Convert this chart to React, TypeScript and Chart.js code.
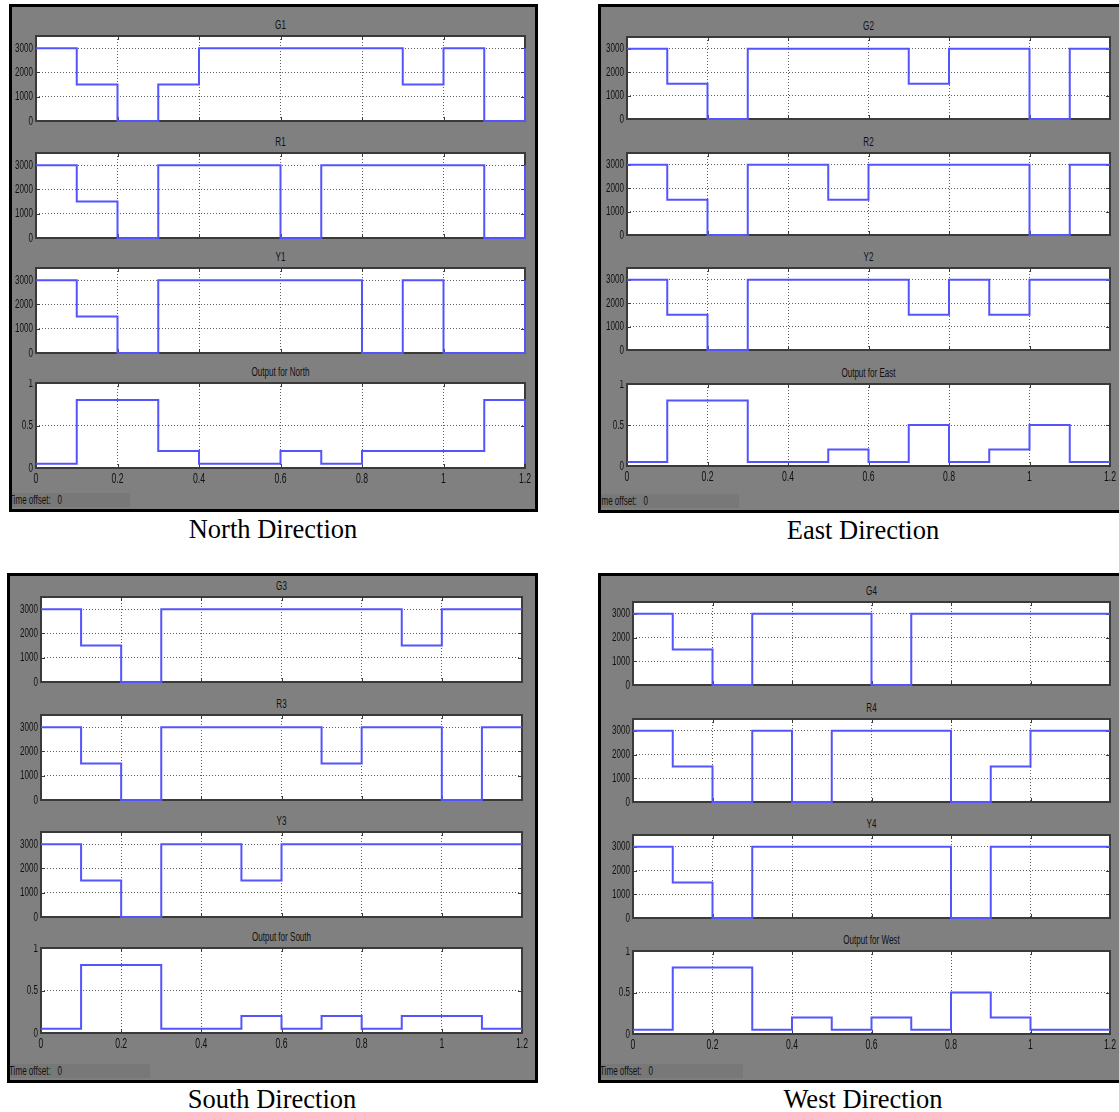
import React, { useEffect, useRef } from "react";
import { Chart, registerables } from "chart.js";

Chart.register(...registerables);

// ---- data ----
const timeSteps = [0, 0.1, 0.2, 0.3, 0.4, 0.5, 0.6, 0.7, 0.8, 0.9, 1.0, 1.1, 1.2];
const xTicks = [0, 0.2, 0.4, 0.6, 0.8, 1.0, 1.2];
const signalTicks = [0, 1000, 2000, 3000];
const outputTicks = [0, 0.5, 1];

const G1 = [3000, 1500, 0, 1500, 3000, 3000, 3000, 3000, 3000, 1500, 3000, 0, 3000];
const R1 = [3000, 1500, 0, 3000, 3000, 3000, 0, 3000, 3000, 3000, 3000, 0, 3000];
const Y1 = [3000, 1500, 0, 3000, 3000, 3000, 3000, 3000, 0, 3000, 0, 0, 3000];
const outNorth = [0.05, 0.8, 0.8, 0.2, 0.05, 0.05, 0.2, 0.05, 0.2, 0.2, 0.2, 0.8, 0.05];

const G2 = [3000, 1500, 0, 3000, 3000, 3000, 3000, 1500, 3000, 3000, 0, 3000, 3000];
const R2 = [3000, 1500, 0, 3000, 3000, 1500, 3000, 3000, 3000, 3000, 0, 3000, 3000];
const Y2 = [3000, 1500, 0, 3000, 3000, 3000, 3000, 1500, 3000, 1500, 3000, 3000, 3000];
const outEast = [0.05, 0.8, 0.8, 0.05, 0.05, 0.2, 0.05, 0.5, 0.05, 0.2, 0.5, 0.05, 0.05];

const G3 = [3000, 1500, 0, 3000, 3000, 3000, 3000, 3000, 3000, 1500, 3000, 3000, 3000];
const R3 = [3000, 1500, 0, 3000, 3000, 3000, 3000, 1500, 3000, 3000, 0, 3000, 3000];
const Y3 = [3000, 1500, 0, 3000, 3000, 1500, 3000, 3000, 3000, 3000, 3000, 3000, 3000];
const outSouth = [0.05, 0.8, 0.8, 0.05, 0.05, 0.2, 0.05, 0.2, 0.05, 0.2, 0.2, 0.05, 0.05];

const G4 = [3000, 1500, 0, 3000, 3000, 3000, 0, 3000, 3000, 3000, 3000, 3000, 3000];
const R4 = [3000, 1500, 0, 3000, 0, 3000, 3000, 3000, 0, 1500, 3000, 3000, 3000];
const Y4 = [3000, 1500, 0, 3000, 3000, 3000, 3000, 3000, 0, 3000, 3000, 3000, 3000];
const outWest = [0.05, 0.8, 0.8, 0.05, 0.2, 0.05, 0.2, 0.05, 0.5, 0.2, 0.05, 0.05, 0.05];

// ---- style ----
const SANS = "'Liberation Sans', Arial, sans-serif";
const SQUEEZE = 0.62;
const TEXT = "#101010";
const LINE = "rgb(84,84,255)";
const GRID = "rgba(40,40,40,0.75)";
const FRAME = "#3a3a3a";
const PANEL_BG = "#808080";

type Box = { l: number; t: number; w: number; h: number };

function fmt(v: number) {
  return String(Number(v.toFixed(2)));
}

function squeezedText(ctx: CanvasRenderingContext2D, s: string, x: number, y: number, align: CanvasTextAlign) {
  ctx.save();
  ctx.translate(x, y);
  ctx.scale(SQUEEZE, 1);
  ctx.textAlign = align;
  ctx.fillText(s, 0, 0);
  ctx.restore();
}

const plotFrame = {
  id: "plotFrame",
  beforeDraw(chart: any) {
    const { ctx, chartArea: a } = chart;
    ctx.save();
    ctx.fillStyle = "#ffffff";
    ctx.fillRect(a.left, a.top, a.right - a.left, a.bottom - a.top);
    ctx.restore();
  },
  beforeDatasetsDraw(chart: any) {
    const { ctx, chartArea: a, scales } = chart;
    ctx.save();
    ctx.strokeStyle = FRAME;
    ctx.lineWidth = 1;
    const tl = 4;
    ctx.beginPath();
    scales.x.ticks.forEach((t: any) => {
      const px = Math.round(scales.x.getPixelForValue(t.value)) + 0.5;
      ctx.moveTo(px, a.top);
      ctx.lineTo(px, a.top + tl);
      ctx.moveTo(px, a.bottom);
      ctx.lineTo(px, a.bottom - tl);
    });
    scales.y.ticks.forEach((t: any) => {
      const py = Math.round(scales.y.getPixelForValue(t.value)) + 0.5;
      ctx.moveTo(a.left, py);
      ctx.lineTo(a.left + tl, py);
      ctx.moveTo(a.right, py);
      ctx.lineTo(a.right - tl, py);
    });
    ctx.stroke();
    ctx.lineWidth = 2;
    ctx.strokeRect(a.left, a.top, a.right - a.left, a.bottom - a.top);
    ctx.restore();
  },
};

function makeTickText(showX: boolean) {
  return {
    id: "tickText",
    afterDraw(chart: any) {
      const { ctx, chartArea: a, scales } = chart;
      ctx.save();
      ctx.fillStyle = TEXT;
      ctx.font = `13px ${SANS}`;
      ctx.textBaseline = "middle";
      scales.y.ticks.forEach((t: any) => {
        const py = scales.y.getPixelForValue(t.value);
        squeezedText(ctx, fmt(t.value), a.left - 3, py, "right");
      });
      if (showX) {
        ctx.font = `14px ${SANS}`;
        scales.x.ticks.forEach((t: any) => {
          const px = scales.x.getPixelForValue(t.value);
          squeezedText(ctx, fmt(t.value), px, a.bottom + 11, "center");
        });
      }
      ctx.restore();
    },
  };
}

function Subplot(props: { title: string; values: number[]; isOutput: boolean; showX: boolean; box: Box }) {
  const { title, values, isOutput, showX, box } = props;
  const ref = useRef<HTMLCanvasElement>(null);
  const YW = 34;
  const PT = 4;
  const PR = 10;
  const XH = showX ? 20 : 0;
  const PB = showX ? 0 : 4;
  const cw = YW + box.w + PR;
  const ch = PT + box.h + XH + PB;

  useEffect(() => {
    const yTicks = isOutput ? outputTicks : signalTicks;
    const chart = new Chart(ref.current as HTMLCanvasElement, {
      type: "line",
      data: {
        datasets: [
          {
            data: timeSteps.map((t, i) => ({ x: t, y: values[i] })),
            stepped: true,
            borderColor: LINE,
            borderWidth: 2,
            pointRadius: 0,
            fill: false,
            tension: 0,
            clip: 4,
          },
        ],
      },
      options: {
        animation: false,
        responsive: false,
        devicePixelRatio: 1,
        layout: { padding: { left: 0, top: PT, right: PR, bottom: PB } },
        plugins: { legend: { display: false }, tooltip: { enabled: false }, title: { display: false } },
        scales: {
          x: {
            type: "linear",
            min: 0,
            max: 1.2,
            afterFit: (s: any) => {
              s.height = XH;
            },
            afterBuildTicks: (s: any) => {
              s.ticks = xTicks.map((v) => ({ value: v }));
            },
            ticks: { display: false },
            grid: { color: GRID, drawTicks: false, lineWidth: 1, borderDash: [1, 2] },
            border: { display: false, dash: [1, 2] },
          },
          y: {
            type: "linear",
            min: 0,
            max: isOutput ? 1 : 3500,
            afterFit: (s: any) => {
              s.width = YW;
            },
            afterBuildTicks: (s: any) => {
              s.ticks = yTicks.map((v) => ({ value: v }));
            },
            ticks: { display: false },
            grid: { color: GRID, drawTicks: false, lineWidth: 1, borderDash: [1, 2] },
            border: { display: false, dash: [1, 2] },
          },
        },
      } as any,
      plugins: [plotFrame, makeTickText(showX)],
    });
    return () => chart.destroy();
  }, []);

  return (
    <>
      <div
        style={{
          position: "absolute",
          left: box.l,
          width: box.w,
          top: box.t - 20,
          height: 17,
          lineHeight: "17px",
          textAlign: "center",
          fontFamily: SANS,
          fontSize: 13,
          color: TEXT,
          transform: "scaleX(0.62)",
          transformOrigin: "center",
        }}
      >
        {title}
      </div>
      <canvas
        ref={ref}
        width={cw}
        height={ch}
        style={{ position: "absolute", left: box.l - YW, top: box.t - PT, width: cw, height: ch }}
      />
    </>
  );
}

type PanelDef = {
  caption: string;
  frame: { l: number; t: number; w: number; h: number };
  axesL: number;
  axesW: number;
  tops: number[];
  axesH: number;
  titles: string[];
  series: number[][];
  captionX: number;
  captionY: number;
  offsetShift: number;
  offsetBarW: number;
};

const panels: PanelDef[] = [
  {
    caption: "North Direction",
    frame: { l: 9, t: 4, w: 529, h: 508 },
    axesL: 36,
    axesW: 489,
    tops: [36, 153, 268, 383],
    axesH: 85,
    titles: ["G1", "R1", "Y1", "Output for North"],
    series: [G1, R1, Y1, outNorth],
    captionX: 273,
    captionY: 529,
    offsetShift: -3,
    offsetBarW: 118,
  },
  {
    caption: "East Direction",
    frame: { l: 598, t: 4, w: 530, h: 509 },
    axesL: 627,
    axesW: 483,
    tops: [37, 153, 268, 384],
    axesH: 82,
    titles: ["G2", "R2", "Y2", "Output for East"],
    series: [G2, R2, Y2, outEast],
    captionX: 863,
    captionY: 530,
    offsetShift: -6,
    offsetBarW: 138,
  },
  {
    caption: "South Direction",
    frame: { l: 7, t: 573, w: 531, h: 510 },
    axesL: 41,
    axesW: 481,
    tops: [597, 715, 832, 948],
    axesH: 85,
    titles: ["G3", "R3", "Y3", "Output for South"],
    series: [G3, R3, Y3, outSouth],
    captionX: 272,
    captionY: 1099,
    offsetShift: -1,
    offsetBarW: 140,
  },
  {
    caption: "West Direction",
    frame: { l: 598, t: 573, w: 530, h: 510 },
    axesL: 633,
    axesW: 477,
    tops: [602, 719, 835, 951],
    axesH: 83,
    titles: ["G4", "R4", "Y4", "Output for West"],
    series: [G4, R4, Y4, outWest],
    captionX: 863,
    captionY: 1099,
    offsetShift: -1,
    offsetBarW: 142,
  },
];

function Panel({ p }: { p: PanelDef }) {
  const f = p.frame;
  return (
    <>
      <div
        style={{
          position: "absolute",
          left: f.l,
          top: f.t,
          width: f.w,
          height: f.h,
          background: PANEL_BG,
          border: "3px solid #000",
          boxSizing: "border-box",
          overflow: "hidden",
        }}
      >
        <div
          style={{
            position: "absolute",
            left: 0,
            bottom: 2,
            width: p.offsetBarW,
            height: 14,
            background: "#787878",
            overflow: "hidden",
          }}
        >
          <div
            style={{
              position: "absolute",
              left: p.offsetShift,
              top: 0,
              whiteSpace: "pre",
              fontFamily: SANS,
              fontSize: 13,
              lineHeight: "14px",
              color: TEXT,
              transform: "scaleX(0.62)",
              transformOrigin: "left center",
            }}
          >
            {"Time offset:   0"}
          </div>
        </div>
      </div>
      {p.series.map((vals, i) => (
        <Subplot
          key={p.titles[i]}
          title={p.titles[i]}
          values={vals}
          isOutput={i === 3}
          showX={i === 3}
          box={{ l: p.axesL, t: p.tops[i], w: p.axesW, h: p.axesH }}
        />
      ))}
      <div
        style={{
          position: "absolute",
          left: p.captionX - 150,
          width: 300,
          top: p.captionY - 16,
          height: 32,
          lineHeight: "32px",
          textAlign: "center",
          fontFamily: "'Liberation Serif', 'Times New Roman', serif",
          fontSize: 26.5,
          color: "#000",
        }}
      >
        {p.caption}
      </div>
    </>
  );
}

export default function App() {
  return (
    <div
      style={{
        position: "absolute",
        left: 0,
        top: 0,
        width: 1119,
        height: 1112,
        background: "#ffffff",
        overflow: "hidden",
      }}
    >
      {panels.map((p) => (
        <Panel key={p.caption} p={p} />
      ))}
    </div>
  );
}
